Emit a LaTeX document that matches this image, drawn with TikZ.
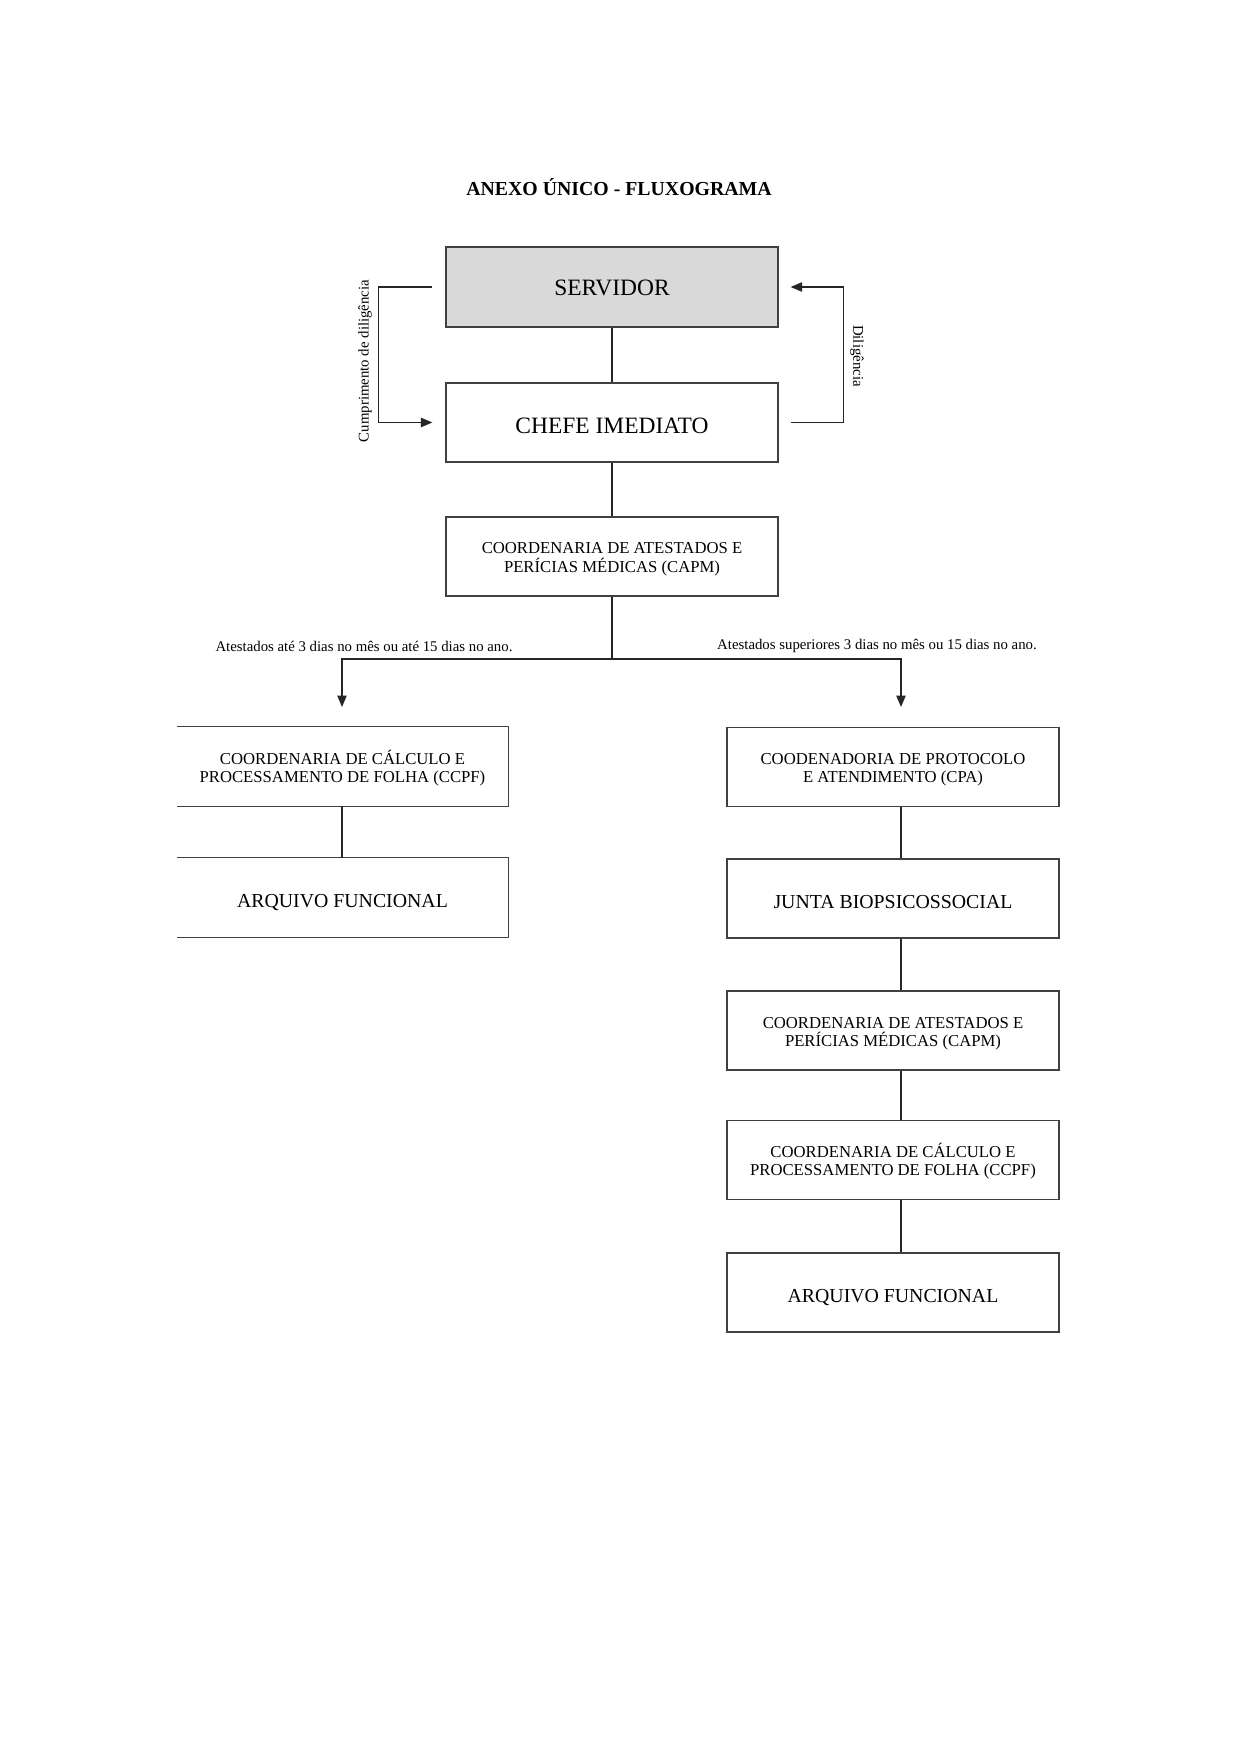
\documentclass[tikz,border=0pt]{standalone}
\usepackage{fontspec}
\setmainfont{Liberation Serif}
\usetikzlibrary{arrows.meta,calc}
\newcommand{\tupstrut}{\rule{0pt}{8pt}}
\begin{document}
\begin{tikzpicture}[x=0.4795pt,y=-0.4795pt,
  box/.style={draw=black!75, line width=0.6pt, minimum width=332*0.4795pt, minimum height=79*0.4795pt, inner sep=0pt, align=center},
  lbox/.style={minimum width=331*0.4795pt, minimum height=79*0.4795pt, inner sep=0pt, align=center},
  bigtxt/.style={font=\fontsize{11.25}{13}\selectfont, text height=8.5pt, text depth=0pt},
  midtxt/.style={font=\fontsize{9.5}{11}\selectfont, text height=9.2pt, text depth=0pt},
  smalltxt/.style={font=\fontsize{8}{8.7}\selectfont},
  lab/.style={font=\fontsize{7.1}{8}\selectfont, inner sep=0pt},
  conn/.style={line width=0.6pt, draw=black!85},
  arr/.style={conn, -{Triangle[length=5.5pt,width=4.5pt]}},
  border/.style={line width=0.6pt, draw=black!75}]
\fill[white] (0,0) rectangle (1241,1755);
\useasboundingbox (0,0) rectangle (1241,1755);

\node[font=\bfseries\fontsize{9.5}{11}\selectfont] (title) at (619,187) {ANEXO ÚNICO - FLUXOGRAMA};

\node[box, fill=black!15, bigtxt, minimum height=80*0.4795pt] (serv) at (612,287) {SERVIDOR};
\node[box, bigtxt, text height=11pt] (chefe) at (612,422.5) {CHEFE IMEDIATO};
\node[box, smalltxt] (capm) at (612,556.5) {\tupstrut COORDENARIA DE ATESTADOS E\\PERÍCIAS MÉDICAS (CAPM)};

\node[lbox, smalltxt] (ccpfL) at (342.5,766.5) {\tupstrut COORDENARIA DE CÁLCULO E\\PROCESSAMENTO DE FOLHA (CCPF)};
\node[lbox, midtxt] (arqL) at (342.5,897.5) {ARQUIVO FUNCIONAL};
\draw[border] (ccpfL.north west) -- (ccpfL.north east) -- (ccpfL.south east) -- (ccpfL.south west);
\draw[border] (arqL.north west) -- (arqL.north east) -- (arqL.south east) -- (arqL.south west);

\node[box, smalltxt] (cpa) at (893,767) {\tupstrut COODENADORIA DE PROTOCOLO\\E ATENDIMENTO (CPA)};
\node[box, midtxt] (junta) at (893,898.5) {JUNTA BIOPSICOSSOCIAL};
\node[box, smalltxt] (capmR) at (893,1030.5) {\tupstrut COORDENARIA DE ATESTADOS E\\PERÍCIAS MÉDICAS (CAPM)};
\node[box, smalltxt] (ccpfR) at (893,1160) {\tupstrut COORDENARIA DE CÁLCULO E\\PROCESSAMENTO DE FOLHA (CCPF)};
\node[box, midtxt, text height=10pt] (arqR) at (893,1292.5) {ARQUIVO FUNCIONAL};

% top connectors
\draw[conn] (serv) -- (chefe);
\draw[conn] (chefe) -- (capm);

% feedback brackets
\draw[arr] ($(serv.west)+(-13,0)$) -- ++(-54,0) |- ($(chefe.west)+(-13,0)$);
\draw[arr] ($(chefe.east)+(12,0)$) -- ++(53,0) |- ($(serv.east)+(12,0)$);
\node[lab, rotate=90] (lcd) at (365,361) {Cumprimento de diligência};
\node[lab, rotate=-90] (ldil) at (857,356) {Diligência};

% split
\coordinate (junc) at (612,659);
\coordinate (jl) at (342,659);
\coordinate (jr) at (901,659);
\coordinate (tl) at (342,707);
\coordinate (tr) at (901,707);
\draw[conn] (capm.south) -- (junc);
\draw[arr] (junc) -- (jl) -- (tl);
\draw[arr] (junc) -- (jr) -- (tr);
\node[lab] (la) at (364,646) {Atestados até 3 dias no mês ou até 15 dias no ano.};
\node[lab] (lb) at (877,646) {Atestados superiores 3 dias no mês ou 15 dias no ano.};

% left column
\draw[conn] (ccpfL.south -| jl) -- (arqL.north -| jl);

% right column
\coordinate (rc) at (901,0);
\draw[conn] (cpa.south -| rc) -- (junta.north -| rc);
\draw[conn] (junta.south -| rc) -- (capmR.north -| rc);
\draw[conn] (capmR.south -| rc) -- (ccpfR.north -| rc);
\draw[conn] (ccpfR.south -| rc) -- (arqR.north -| rc);
\end{tikzpicture}
\end{document}
